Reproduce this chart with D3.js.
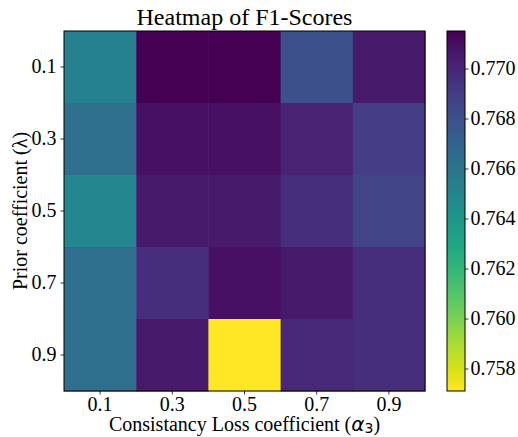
<!DOCTYPE html>
<html>
<head>
<meta charset="utf-8">
<script src="https://cdn.jsdelivr.net/npm/d3@7"></script>
<style>
  body { margin: 0; background: white; }
  text { font-family: "Liberation Serif", "Times New Roman", serif; fill: black; }
</style>
</head>
<body>
<div id="chart"></div>
<script>
const alphaLabels = ["0.1", "0.3", "0.5", "0.7", "0.9"];
const lambdaLabels = ["0.1", "0.3", "0.5", "0.7", "0.9"];

// F1 scores, rows = prior coefficient, columns = consistency loss coefficient
const row01 = [0.7652, 0.7715, 0.7715, 0.7680, 0.7705];
const row03 = [0.7663, 0.7709, 0.7709, 0.7701, 0.7689];
const row05 = [0.7649, 0.7705, 0.7705, 0.7696, 0.7686];
const row07 = [0.7663, 0.7696, 0.7709, 0.7705, 0.7696];
const row09 = [0.7663, 0.7705, 0.7571, 0.7699, 0.7696];
const scores = [row01, row03, row05, row07, row09];

const colorTicks = [0.758, 0.760, 0.762, 0.764, 0.766, 0.768, 0.770];

const width = 518;
const height = 437;
const plot = { left: 64, right: 425, top: 31, bottom: 391 };
const bar = { left: 447, right: 465 };

const svg = d3.select("#chart")
  .append("svg")
  .attr("width", width)
  .attr("height", height);

const x = d3.scaleBand().domain(alphaLabels).range([plot.left, plot.right]);
const y = d3.scaleBand().domain(lambdaLabels).range([plot.top, plot.bottom]);

const allValues = scores.flat();
const vmin = d3.min(allValues);
const vmax = d3.max(allValues);
const color = d3.scaleSequential(d3.interpolateViridis).domain([vmax, vmin]);

const cells = [];
scores.forEach((row, i) => {
  row.forEach((v, j) => cells.push({ lam: lambdaLabels[i], alpha: alphaLabels[j], v }));
});

svg.selectAll("rect.cell")
  .data(cells)
  .enter()
  .append("rect")
  .attr("class", "cell")
  .attr("x", d => x(d.alpha))
  .attr("y", d => y(d.lam))
  .attr("width", x.bandwidth() + 0.5)
  .attr("height", y.bandwidth() + 0.5)
  .attr("fill", d => color(d.v));

svg.append("rect")
  .attr("x", plot.left)
  .attr("y", plot.top)
  .attr("width", plot.right - plot.left)
  .attr("height", plot.bottom - plot.top)
  .attr("fill", "none")
  .attr("stroke", "black")
  .attr("stroke-width", 1);

// Axes
const xAxis = svg.append("g")
  .attr("transform", `translate(0,${plot.bottom})`)
  .call(d3.axisBottom(x).tickSizeOuter(0).tickSize(3.5).tickPadding(2));
const yAxis = svg.append("g")
  .attr("transform", `translate(${plot.left},0)`)
  .call(d3.axisLeft(y).tickSizeOuter(0).tickSize(3.5).tickPadding(4));

[xAxis, yAxis].forEach(g => {
  g.select(".domain").remove();
  g.selectAll("text")
    .attr("font-family", "Liberation Serif, serif")
    .attr("font-size", 20)
    .attr("fill", "black");
  g.selectAll("line").attr("stroke", "black").attr("stroke-width", 0.8);
});

// Title
svg.append("text")
  .attr("x", (plot.left + plot.right) / 2)
  .attr("y", 25)
  .attr("text-anchor", "middle")
  .attr("font-size", 24)
  .text("Heatmap of F1-Scores");

// X label
const xLabel = svg.append("text")
  .attr("x", (plot.left + plot.right) / 2)
  .attr("y", 431)
  .attr("text-anchor", "middle")
  .attr("font-size", 20);
xLabel.append("tspan").text("Consistancy Loss coefficient (");
xLabel.append("tspan")
  .attr("font-family", "DejaVu Sans")
  .attr("font-style", "italic")
  .text("α");
xLabel.append("tspan")
  .attr("font-family", "DejaVu Sans")
  .attr("font-size", 14)
  .attr("dy", 2)
  .text("3");
xLabel.append("tspan").attr("dy", -2).text(")");

// Y label
svg.append("text")
  .attr("transform", `translate(27,${(plot.top + plot.bottom) / 2}) rotate(-90)`)
  .attr("text-anchor", "middle")
  .attr("font-size", 20)
  .text("Prior coefficient (λ)");

// Colorbar
const cbar = d3.scaleLinear().domain([vmin, vmax]).range([plot.bottom, plot.top]);

const defs = svg.append("defs");
const grad = defs.append("linearGradient")
  .attr("id", "cbar-grad")
  .attr("x1", 0).attr("y1", 1)
  .attr("x2", 0).attr("y2", 0);
d3.range(0, 1.0001, 0.02).forEach(t => {
  grad.append("stop")
    .attr("offset", t)
    .attr("stop-color", color(vmin + t * (vmax - vmin)));
});

svg.append("rect")
  .attr("x", bar.left)
  .attr("y", plot.top)
  .attr("width", bar.right - bar.left)
  .attr("height", plot.bottom - plot.top)
  .attr("fill", "url(#cbar-grad)")
  .attr("stroke", "black")
  .attr("stroke-width", 1);

const cAxis = svg.append("g")
  .attr("transform", `translate(${bar.right},0)`)
  .call(d3.axisRight(cbar).tickValues(colorTicks).tickFormat(d3.format(".3f")).tickSize(3.5).tickPadding(2));
cAxis.select(".domain").remove();
cAxis.selectAll("text")
  .attr("font-family", "Liberation Serif, serif")
  .attr("font-size", 20)
  .attr("fill", "black");
cAxis.selectAll("line").attr("stroke", "black").attr("stroke-width", 0.8);
</script>
</body>
</html>
